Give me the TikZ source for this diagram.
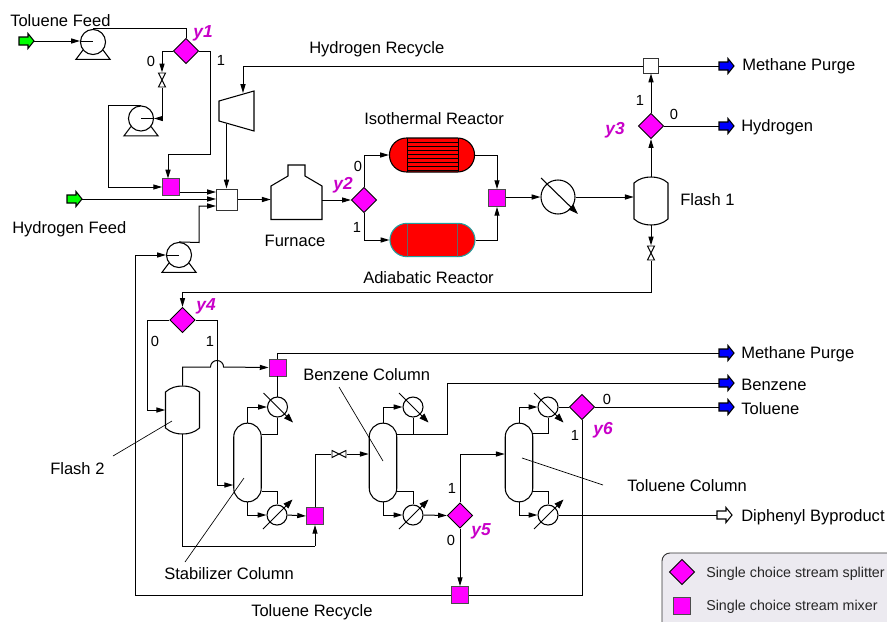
\documentclass[tikz,border=0pt]{standalone}
\usepackage{fontspec}
\setmainfont{Liberation Sans}
\usetikzlibrary{arrows.meta,shapes.geometric,calc}
\definecolor{mag}{HTML}{FF00FF}
\definecolor{ylab}{HTML}{C800C8}
\definecolor{lgray}{HTML}{ECEAF0}
\definecolor{tealb}{HTML}{20A0A0}
\tikzset{
  flow/.style={line width=0.75pt,line join=miter,-{Triangle[length=6.6pt,width=3.8pt]}},
  pipe/.style={line width=0.75pt},
  leader/.style={line width=0.5pt},
  splitter/.style={diamond,draw=black,fill=mag,line width=0.7pt,minimum width=19pt,minimum height=19pt,inner sep=0pt,shape aspect=1},
  mixer/.style={rectangle,draw=black!70,fill=mag,line width=0.6pt,minimum size=12.8pt,inner sep=0pt},
  whitebox/.style={rectangle,draw=black!80,fill=white,line width=0.7pt,inner sep=0pt},
  pumpc/.style={circle,draw=black,fill=white,line width=0.8pt,minimum size=18.8pt,inner sep=0pt},
  hxc/.style={circle,draw=black,fill=white,line width=0.8pt,inner sep=0pt},
  hold/.style={rectangle,inner sep=0pt},
  column/.style={rectangle,draw=black,fill=white,line width=0.8pt,rounded corners=10.2pt,minimum width=20.6pt,minimum height=59pt,inner sep=0pt},
  lab/.style={inner sep=0pt,yshift=-0.8pt,font=\fontsize{12.4pt}{14pt}\selectfont,text height=9pt,text depth=3pt},
  dig/.style={inner sep=0pt,font=\fontsize{11pt}{13pt}\selectfont},
  ylabel/.style={inner sep=0pt,yshift=-0.6pt,text=ylab,font=\fontsize{13pt}{15pt}\selectfont\bfseries\itshape},
  legtext/.style={inner sep=0pt,font=\fontsize{10.7pt}{12pt}\selectfont,text height=8pt,text depth=2pt,text=black!85},
}
\newcommand{\pumpunit}[3]{%
  \draw[line width=0.8pt,fill=white] (#2-10,#3+8) -- (#2-17,#3+17.3) -- (#2+17,#3+17.3) -- (#2+10,#3+8);
  \node[pumpc] (#1) at (#2,#3) {};}
\newcommand{\blockarrow}[4]{% name, tail x, y, colour
  \draw[line width=0.8pt,fill=#4] (#2,#3-4) -- (#2+9,#3-4) -- (#2+9,#3-7.5) -- (#2+15,#3) -- (#2+9,#3+7.5) -- (#2+9,#3+4) -- (#2,#3+4) -- cycle;
  \coordinate (#1t) at (#2,#3);
  \coordinate (#1h) at (#2+15,#3);}
\newcommand{\vesselunit}[3]{% name, cx, cy
  \node[hold,minimum width=25.5pt,minimum height=36pt] (#1) at (#2,#3) {};
  \draw[line width=0.8pt,fill=white] (#2-17,#3-18) .. controls (#2-12,#3-22.5) and (#2-6,#3-24) .. (#2,#3-24) .. controls (#2+6,#3-24) and (#2+12,#3-22.5) .. (#2+17,#3-18) -- (#2+17,#3+18) .. controls (#2+12,#3+22.5) and (#2+6,#3+24) .. (#2,#3+24) .. controls (#2-6,#3+24) and (#2-12,#3+22.5) .. (#2-17,#3+18) -- cycle;}
\newcommand{\valveV}[3]{%
  \node[hold,minimum width=5.5pt,minimum height=11pt] (#1) at (#2,#3) {};
  \draw[line width=0.7pt,fill=white] (#2-3.5,#3-7) -- (#2+3.5,#3-7) -- (#2-3.5,#3+7) -- (#2+3.5,#3+7) -- cycle;}
\newcommand{\valveH}[3]{%
  \node[hold,minimum width=11pt,minimum height=5.5pt] (#1) at (#2,#3) {};
  \draw[line width=0.7pt,fill=white] (#2-7,#3-3.5) -- (#2-7,#3+3.5) -- (#2+7,#3-3.5) -- (#2+7,#3+3.5) -- cycle;}
\newcommand{\hxdown}[3]{% condenser: arrow towards lower right
  \node[hxc,minimum size=15pt] (#1) at (#2,#3) {};
  \draw[line width=0.7pt,-{Triangle[length=7pt,width=5pt]}] (#2-14,#3-14) -- (#2+15.5,#3+15.5);}
\newcommand{\hxup}[3]{% reboiler: arrow towards upper right
  \node[hxc,minimum size=15pt] (#1) at (#2,#3) {};
  \draw[line width=0.7pt,-{Triangle[length=7pt,width=5pt]}] (#2-14,#3+14) -- (#2+15.5,#3-15.5);}
\begin{document}
\begin{tikzpicture}[x=0.75pt,y=-0.75pt]
\useasboundingbox (0,0) rectangle (887,621);
\clip (0,0) rectangle (887,621);
% ---------- legend
\node[rectangle,draw=black!80,fill=lgray,line width=0.7pt,rounded corners=6pt,minimum width=178.5pt,minimum height=65.25pt,inner sep=0pt] (legend) at (781,596.5) {};
\node[splitter] (legsplit) at (682,572) {};
\node[mixer] (legmix) at (682,606) {};
\node[legtext,anchor=west] (legsplittext) at (706,573) {Single choice stream splitter};
\node[legtext,anchor=west] (legmixtext) at (706,606) {Single choice stream mixer};
% ---------- equipment
\blockarrow{feedT}{19}{41}{green}
\blockarrow{feedH}{67}{199}{green}
\pumpunit{pumpA}{93}{42}
\pumpunit{pumpB}{141}{118.5}
\pumpunit{pumpC}{179}{255}
\valveV{valveA}{162}{80}
\valveV{valveB}{651}{253}
\valveH{valveC}{339}{454}
\node[splitter] (yone) at (186,51) {};
\node[splitter] (ytwo) at (364,200) {};
\node[splitter] (ythree) at (651,126) {};
\node[splitter] (yfour) at (182.5,320) {};
\node[splitter] (yfive) at (460,515.5) {};
\node[splitter] (ysix) at (582,407) {};
\node[mixer] (mixA) at (171,187) {};
\node[mixer] (mixB) at (497,198) {};
\node[mixer] (mixC) at (277.5,367.5) {};
\node[mixer] (mixD) at (315,516) {};
\node[mixer] (mixR) at (460,595) {};
\node[whitebox,minimum size=15.8pt] (boxA) at (227,199.5) {};
\node[whitebox,minimum size=10.6pt] (boxB) at (651,66) {};
% compressor
\node[hold,minimum width=26pt,minimum height=30pt] (comp) at (236.5,111) {};
\coordinate (compin) at (243,93);
\coordinate (compout) at (226.5,124);
\draw[line width=0.8pt,fill=white] (219,101) -- (254,91) -- (254,131) -- (219,121) -- cycle;
% furnace
\node[hold,minimum width=38.25pt,minimum height=41pt] (furn) at (296.5,192.5) {};
\draw[line width=0.8pt,fill=white] (271,219.5) -- (271,186) -- (288,176) -- (288,165) -- (305,165) -- (305,176) -- (322,186) -- (322,219.5) -- cycle;
% reactors
\node[rectangle,draw=black,fill=red,line width=0.8pt,rounded corners=12.7pt,minimum width=63.8pt,minimum height=25.5pt,inner sep=0pt] (iso) at (432,155) {};
\foreach \yy in {142,146,150,154,158,162,166,170} \draw[line width=0.7pt] (407,\yy) -- (458,\yy);
\draw[line width=0.5pt] (407,138) -- (407,172) (458,138) -- (458,172);
\node[rectangle,draw=tealb,fill=red,line width=0.8pt,rounded corners=12.7pt,minimum width=63.8pt,minimum height=25pt,inner sep=0pt] (adia) at (432.5,240) {};
\draw[line width=0.3pt,draw=black!60] (407.5,224) -- (407.5,257) (457.5,224) -- (457.5,257);
% big exchanger
\node[hxc,minimum size=25.5pt] (hxA) at (558,197) {};
\draw[line width=0.8pt,-{Triangle[length=7.5pt,width=5pt]}] (541,178) -- (578,214);
\vesselunit{flashA}{651}{201}
\vesselunit{flashB}{182.5}{410}
\node[column] (stab) at (247.5,462.5) {};
\node[column] (benz) at (383,462.5) {};
\node[column] (tolc) at (519,462.5) {};
% ---------- connectors
\draw[flow] (feedTh) -- (feedTh -| pumpA.west);
\draw[pipe] (feedTh -| pumpA.west) -- (feedTh -| pumpA.center);
\draw[pipe] (pumpA.north) -| (yone.north);
\draw[flow] (yone.west) -| (valveA.north);
\draw[flow] (valveA.south) |- (pumpB.east);
\draw[pipe] (pumpB.east) -- (pumpB.center);
\draw[flow] (pumpB.north) -- ++(-33,0) |- (mixA.west);
\draw[flow] (yone.east) -- (210,51) -- (210,154.5) -- (168,154.5) -- (168,178.5);
\draw[flow] (mixA.east |- 0,192) -- (boxA.west |- 0,192);
\draw[flow] (feedHh) -- (boxA.west |- feedHh);
\draw[flow] (pumpC.north) -- (199,242.5) |- (boxA.west |- 0,206);
\draw[flow] (compout) -- (compout |- boxA.north);
\draw[flow] (boxB.west) -- (243,66) -- (compin);
\draw[flow] (boxA.east) -- (furn.west |- boxA.east);
\draw[flow] (furn.east |- ytwo.west) -- (ytwo.west);
\draw[flow] (ytwo.north) |- (iso.west);
\draw[flow] (ytwo.south) |- (adia.west);
\draw[flow] (iso.east) -| (mixB.north);
\draw[flow] (adia.east) -| (mixB.south);
\draw[flow] (mixB.east |- hxA.west) -- (hxA.west);
\draw[flow] (hxA.east) -- (hxA.east -| flashA.west);
\draw[flow] (flashA.north) -- (ythree.south);
\draw[flow] (ythree.north) -- (boxB.south);
\draw[flow] (flashA.south) -- (valveB.north);
\draw[flow] (valveB.south) -- (651,292) -| (yfour.north);
\coordinate (purgeA) at (720,66);
\coordinate (hydro) at (720,126);
\draw[pipe] (boxB.east) -- (purgeA);
\draw[pipe] (ythree.east) -- (hydro);
\blockarrow{outA}{719}{66}{blue}
\blockarrow{outB}{719}{126}{blue}
\draw[flow] (yfour.west) -- (147,320) |- (flashB.west |- 0,410);
\draw[flow] (yfour.east) -- (217,320) |- (stab.west |- 0,485);
\draw[flow] (flashB.north) |- (210.5,367) arc[start angle=180,end angle=0,radius=4.9pt] -- (mixC.west);
\draw[pipe] (mixC.north) |- (720,353);
\blockarrow{outC}{719}{353}{blue}
\draw[pipe] (flashB.south) -- (182.5,546) -- (315,546);
\draw[flow] (315,546) -- (mixD.south);
\draw[pipe] (mixC.south) -- (277.5,397);
\hxdown{cdA}{277.5}{407}
\hxup{rbA}{277}{515}
\draw[flow] (stab.north) |- (cdA.west);
\draw[pipe] (cdA.south) |- (stab.east |- 0,434);
\draw[pipe] (stab.east |- 0,491.6) -| (rbA.north);
\draw[flow] (stab.south) |- (rbA.west);
\draw[flow] (rbA.east) -- (mixD.west);
\draw[pipe] (mixD.north) |- (valveC.west);
\draw[flow] (valveC.east) -- (benz.west |- valveC.east);
\hxdown{cdB}{413}{407}
\hxup{rbB}{413}{515}
\draw[flow] (benz.north) |- (cdB.west);
\draw[pipe] (cdB.south) -- (413,434);
\draw[pipe] (benz.east |- 0,434) -- (447,434) -- (447,383) -- (720,383);
\blockarrow{outD}{719}{383}{blue}
\draw[pipe] (benz.east |- 0,491.6) -| (rbB.north);
\draw[flow] (benz.south) |- (rbB.west);
\draw[flow] (rbB.east) -- (yfive.west);
\draw[flow] (yfive.north) |- (tolc.west |- 0,454);
\draw[flow] (yfive.south) -- (mixR.north);
\hxdown{cdC}{548}{407}
\hxup{rbC}{548}{515}
\draw[flow] (tolc.north) |- (cdC.west);
\draw[pipe] (tolc.east |- 0,433.5) -| (cdC.south);
\draw[pipe] (cdC.east) -- (ysix.west);
\draw[pipe] (ysix.east) -- (720,407);
\blockarrow{outE}{719}{407}{blue}
\draw[pipe] (ysix.south) |- (mixR.east);
\draw[flow] (mixR.west) -- (135,595) |- (pumpC.west);
\draw[pipe] (pumpC.west) -- (pumpC.center);
\draw[pipe] (tolc.east |- 0,491.6) -| (rbC.north);
\draw[flow] (tolc.south) |- (rbC.west);
\draw[pipe] (rbC.east) -- (718,515);
\blockarrow{outF}{717}{515}{white}
% leader lines
\draw[leader] (113,456) -- (172,421);
\draw[leader] (185,562) -- (244,478);
\draw[leader] (339,387) -- (383,461);
\draw[leader] (522,458) -- (603,485);
% ---------- labels
\node[lab,anchor=west] (tTF) at (10,21) {Toluene Feed};
\node[lab,anchor=west] (tHR) at (309,48) {Hydrogen Recycle};
\node[lab,anchor=west] (tMP1) at (742,65) {Methane Purge};
\node[lab,anchor=west] (tH) at (741,126) {Hydrogen};
\node[lab,anchor=west] (tIR) at (364,119) {Isothermal Reactor};
\node[lab,anchor=west] (tF1) at (680,200) {Flash 1};
\node[lab,anchor=west] (tHF) at (12,228) {Hydrogen Feed};
\node[lab] (tFu) at (295,241) {Furnace};
\node[lab,anchor=west] (tAR) at (363,278) {Adiabatic Reactor};
\node[lab,anchor=west] (tMP2) at (741,353) {Methane Purge};
\node[lab,anchor=west] (tBC) at (303,375) {Benzene Column};
\node[lab,anchor=west] (tB) at (741,385) {Benzene};
\node[lab,anchor=west] (tT) at (741,409) {Toluene};
\node[lab,anchor=west] (tF2) at (50,469) {Flash 2};
\node[lab,anchor=west] (tTC) at (627,486) {Toluene Column};
\node[lab,anchor=west] (tDB) at (741,516) {Diphenyl Byproduct};
\node[lab,anchor=west] (tSC) at (164,574) {Stabilizer Column};
\node[lab,anchor=west] (tTR) at (251,611.5) {Toluene Recycle};
\node[dig] (d1) at (151,61) {0};
\node[dig] (d2) at (221,60) {1};
\node[dig] (d3) at (358,166) {0};
\node[dig] (d4) at (357,227) {1};
\node[dig] (d5) at (640,100) {1};
\node[dig] (d6) at (674,114) {0};
\node[dig] (d7) at (155,341) {0};
\node[dig] (d8) at (210,341) {1};
\node[dig] (d9) at (452,488) {1};
\node[dig] (d10) at (451,540) {0};
\node[dig] (d11) at (607,399) {0};
\node[dig] (d12) at (575,435) {1};
\node[ylabel] (l1) at (203,33) {y1};
\node[ylabel] (l2) at (343,184) {y2};
\node[ylabel] (l3) at (615,129) {y3};
\node[ylabel] (l4) at (206,306) {y4};
\node[ylabel] (l5) at (481,531) {y5};
\node[ylabel] (l6) at (603,429) {y6};
\end{tikzpicture}
\end{document}
